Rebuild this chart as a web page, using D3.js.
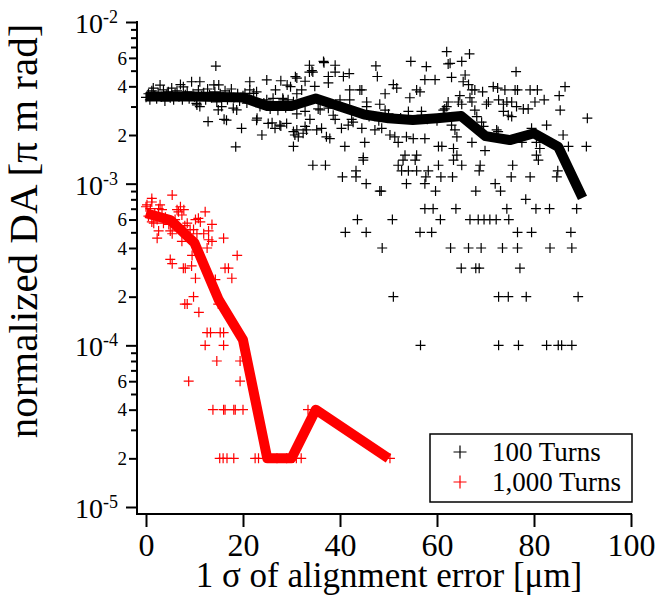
<!DOCTYPE html>
<html>
<head>
<meta charset="utf-8">
<script src="https://d3js.org/d3.v7.min.js"></script>
<style>
  body { margin: 0; background: #fff; }
  text { font-family: "Liberation Serif", "Times New Roman", serif; fill: #000; }
</style>
</head>
<body>
<script>
var width = 655, height = 602;
var unit = 1e-3; // DA values below are given in units of 1e-3 pi m rad

// mean curves
var lineX100 = [0, 5, 10, 15, 20, 25, 30, 35, 40, 45, 50, 55, 60, 65, 70, 75, 80, 85, 90];
var lineDA100 = [3.46, 3.46, 3.46, 3.44, 3.41, 3.02, 3.02, 3.36, 3.0, 2.68, 2.54, 2.48, 2.54, 2.62, 1.97, 1.86, 2.05, 1.69, 0.816];
var lineX1000 = [0, 5, 10, 15, 20, 25, 30, 35, 50];
var lineDA1000 = [0.656, 0.596, 0.43, 0.191, 0.108, 0.02, 0.02, 0.04, 0.02];

// individual seeds, [sigma, DA]
var pts100 = [
  [0,3.42],[0.5,3.6],[0.8,3.3],[1.2,3.75],[1.5,3.9],[1.8,3.5],[2.2,3.35],[2.5,3.65],[2.9,4.07],[3.2,3.45],
  [3.6,3.8],[3.9,3.25],[4.3,3.55],[4.6,3.7],[5.0,3.4],[5.3,3.9],[5.7,3.3],[6.0,3.6],[6.4,3.75],[6.8,3.45],
  [7.1,4.1],[7.5,3.3],[7.7,3.97],[8.1,3.55],[8.5,3.7],[8.9,3.35],[9.4,4.27],[9.7,3.6],[10.0,3.45],[10.4,3.14],
  [10.5,3.07],[10.8,3.8],[11.1,4.27],[11.1,3.0],[11.5,3.5],[11.9,3.65],[12.3,3.3],[12.8,2.42],[12.7,3.85],[13.1,3.55],
  [13.5,3.4],[14.0,4.08],[14.2,3.7],[14.4,5.34],[14.6,3.2],[14.9,2.86],[15.0,4.08],[15.3,3.6],[15.6,3.0],[15.9,3.45],
  [16.1,2.5],[16.3,3.75],[16.6,2.47],[16.8,3.3],[17.2,3.55],[17.6,3.85],[18.0,2.93],[18.1,3.4],[18.5,1.69],[18.7,2.86],
  [18.9,3.6],[19.3,3.25],[19.7,2.2],[20.0,3.5],[20.4,3.62],[20.8,3.15],[21.4,4.27],[21.4,3.8],[21.8,3.3],[22.2,3.62],
  [22.8,3.7],[22.9,2.54],[22.8,2.47],[23.5,3.0],[23.9,2.0],[24.3,3.15],[24.9,4.38],[24.9,3.3],[25.2,2.36],[25.6,2.9],
  [26.0,2.38],[26.2,3.37],[26.6,2.2],[26.7,3.8],[27.2,2.85],[27.6,2.3],[27.8,4.33],[27.8,2.27],[28.2,3.37],[28.3,3.3],
  [28.8,2.95],[29.1,4.07],[29.0,2.36],[29.3,3.3],[29.8,3.98],[30.4,3.21],[30.4,1.7],[30.4,2.1],[30.7,2.0],[30.8,4.59],
  [31.1,4.5],[31.1,3.6],[31.1,2.7],[31.1,2.15],[31.4,1.95],[32.1,3.8],[32.4,2.05],[32.8,4.3],[32.8,2.8],[32.8,2.26],
  [33.1,2.15],[33.7,5.4],[33.7,4.9],[33.8,2.5],[34.2,5.0],[34.4,4.9],[34.4,1.3],[34.8,4.0],[35.2,2.15],[35.5,2.9],
  [35.9,2.86],[36.2,2.2],[36.6,5.7],[36.7,5.6],[37.0,1.3],[37.2,1.95],[37.6,4.6],[37.6,4.2],[37.6,2.93],[37.9,1.9],
  [38.6,2.65],[39.0,5.4],[39.0,4.9],[39.0,2.5],[40.0,3.3],[40.3,2.2],[40.5,1.1],[40.7,4.6],[41.0,1.7],[41.1,0.5],
  [41.7,2.3],[41.9,4.8],[42.0,3.8],[42.0,3.3],[42.4,2.5],[42.7,2.4],[43.3,1.1],[43.3,1.2],[43.6,0.6],[44.1,3.8],
  [44.5,3.8],[44.5,2.2],[44.8,1.45],[44.8,1.4],[45.1,1.8],[45.4,1.0],[45.4,0.5],[45.5,3.2],[45.5,3.0],[46.0,2.6],
  [47.2,2.15],[47.4,5.35],[47.7,4.6],[48.0,2.45],[48.2,3.1],[48.2,0.9],[48.5,0.9],[48.6,2.2],[48.7,0.4],[49.3,3.6],
  [49.3,2.85],[50.0,2.7],[50.3,2.0],[50.8,0.6],[51.0,4.1],[51.0,0.2],[51.3,1.95],[51.7,3.9],[52.0,1.8],[52.0,1.3],
  [52.5,2.55],[52.7,1.2],[53.0,1.4],[53.4,1.5],[53.7,1.95],[53.7,1.0],[54.1,2.8],[54.1,1.2],[54.4,3.4],[54.6,5.7],
  [55.1,1.9],[55.5,1.4],[55.8,3.8],[55.8,1.5],[55.8,1.2],[56.5,3.7],[56.5,0.5],[56.6,0.1],[56.8,2.8],[56.8,2.65],
  [57.5,4.4],[57.5,1.9],[57.5,1.0],[57.5,0.7],[57.7,1.1],[57.8,5.3],[58.0,2.5],[58.2,1.2],[58.9,0.5],[59.2,0.7],
  [59.6,4.4],[59.7,0.9],[60.0,2.45],[60.3,1.7],[60.3,1.3],[60.7,0.6],[60.8,1.1],[61.0,1.7],[61.3,2.85],[61.6,2.9],
  [62.0,6.55],[62.0,3.0],[62.3,5.5],[62.3,3.2],[62.7,5.55],[62.8,0.4],[63.0,4.55],[63.0,2.3],[63.2,1.1],[63.4,1.65],
  [63.4,1.4],[63.7,2.15],[63.9,0.7],[64.1,1.95],[64.1,1.5],[64.4,3.2],[64.7,3.5],[65.0,0.3],[65.1,5.7],[65.1,3.1],
  [65.1,1.3],[65.4,4.27],[65.8,4.7],[66.5,4.1],[66.5,0.4],[66.7,6.35],[66.8,3.4],[66.8,0.6],[67.2,3.8],[67.2,3.2],
  [67.2,1.8],[67.8,3.8],[67.8,2.85],[68.0,0.3],[68.0,0.9],[68.2,2.6],[68.5,0.6],[68.7,0.3],[68.7,1.2],[68.9,1.3],
  [69.1,0.4],[69.2,2.4],[69.4,3.7],[69.6,2.26],[69.7,0.6],[69.9,1.6],[70.2,3.1],[70.6,3.2],[70.9,0.6],[71.6,3.98],
  [72.0,1.0],[72.2,0.6],[72.3,2.15],[72.5,3.9],[72.6,2.1],[72.7,0.2],[72.7,0.1],[72.7,3.3],[73.1,0.9],[73.5,0.4],
  [73.7,3.1],[73.7,2.8],[74.0,3.8],[74.4,3.2],[74.4,0.7],[74.7,2.65],[74.7,0.2],[74.8,0.6],[75.3,1.1],[75.4,3.2],
  [75.4,2.6],[75.6,1.3],[76.1,3.8],[76.3,4.93],[76.4,3.0],[76.6,3.8],[76.6,0.4],[76.6,0.5],[76.8,0.1],[77.1,0.3],
  [77.5,1.8],[77.8,2.9],[78.3,0.8],[78.4,0.2],[78.8,2.9],[79.2,3.8],[79.2,1.1],[79.5,2.2],[79.5,0.5],[80.2,3.2],
  [80.4,0.7],[80.5,1.8],[80.5,1.5],[80.7,3.8],[80.9,1.4],[81.2,1.65],[82.1,3.3],[82.6,2.3],[82.6,0.1],[83.2,0.7],
  [83.3,0.4],[84.7,1.1],[84.9,1.2],[85.0,0.1],[85.2,3.5],[85.4,2.85],[85.7,0.1],[86.0,2.0],[86.4,3.98],[87.1,1.7],
  [87.6,0.5],[87.8,0.4],[87.8,0.1],[88.8,0.7],[89.1,0.2],[90.8,1.7],[91.0,2.54]
];
var pts1000 = [
  [5.4,0.85],[1.2,0.81],[0.2,0.74],[0,0.72],[0.9,0.70],[2.9,0.74],[2.6,0.70],[3.3,0.69],[7.1,0.72],[7.8,0.69],
  [6.7,0.67],[6.4,0.69],[7.4,0.64],[12.2,0.67],[10.8,0.61],[10.2,0.60],[11.2,0.58],[1.6,0.57],[2.3,0.60],[1.2,0.58],
  [3.6,0.57],[4.7,0.56],[8.5,0.57],[9.1,0.52],[9.8,0.52],[10.5,0.49],[13.6,0.56],[12.9,0.51],[11.9,0.49],[2.6,0.51],
  [2.3,0.46],[5.4,0.49],[5.0,0.51],[7.4,0.44],[12.9,0.45],[13.6,0.44],[16.0,0.46],[12.6,0.40],[18.8,0.36],[5.0,0.34],
  [5.4,0.32],[8.1,0.30],[9.5,0.36],[16.3,0.30],[17.0,0.30],[10.2,0.26],[14.3,0.255],[17.7,0.26],[9.8,0.20],[8.5,0.18],
  [10.9,0.16],[8.0,0.18],[14.9,0.18],[12.6,0.12],[13.3,0.12],[15.3,0.12],[16.0,0.12],[12.2,0.10],[16.0,0.10],[14.6,0.08],
  [19.4,0.08],[20.8,0.08],[8.8,0.06],[19.4,0.06],[13.8,0.04],[16.0,0.04],[16.3,0.04],[18.1,0.04],[18.4,0.04],[20.0,0.04],
  [33.4,0.04],[15.2,0.02],[15.9,0.02],[16.7,0.02],[18.1,0.02],[22.5,0.02],[23.2,0.02],[27.0,0.02],[29.0,0.02],[31.0,0.02],
  [32.0,0.02],[50.3,0.02],[0.5,0.63],[1.8,0.65],[4.0,0.62],[6.0,0.60],[8.0,0.55],[1.2,0.77],[9.4,0.31],[7.7,0.30]
];

var xTicks = [0, 20, 40, 60, 80, 100];
var yDecades = [-5, -4, -3, -2];
var yMinorLabels = [2, 4, 6];
var legendLabels = ["100 Turns", "1,000 Turns"];
var colors = ["#000000", "#ff0000"];

var x = d3.scaleLinear().domain([0, 100]).range([146, 631]);
var y = d3.scaleLog().domain([1e-5, 1e-2]).range([507, 22]);

var svg = d3.select("body").append("svg")
    .attr("width", width)
    .attr("height", height);

// axes
var yTickVals = [];
yDecades.forEach(function (e) {
    if (e === -2) { yTickVals.push(Math.pow(10, e)); return; }
    for (var k = 1; k <= 9; k++) yTickVals.push(k * Math.pow(10, e));
});

function mantissa(v) {
    var e = Math.floor(Math.log10(v) + 1e-9);
    return Math.round(v / Math.pow(10, e));
}

var yAxis = svg.append("g")
    .attr("transform", "translate(137,0)")
    .call(d3.axisLeft(y).tickValues(yTickVals).tickFormat("").tickSizeOuter(0));
yAxis.select(".domain").remove();
yAxis.selectAll(".tick line")
    .attr("x2", function (d) {
        var m = mantissa(d);
        if (m === 1) return -11;
        if (yMinorLabels.indexOf(m) >= 0) return -8;
        return -6;
    })
    .attr("stroke", "#000")
    .attr("stroke-width", 2);

var xAxis = svg.append("g")
    .attr("transform", "translate(0,514)")
    .call(d3.axisBottom(x).tickValues(xTicks).tickSize(13).tickSizeOuter(0).tickPadding(4));
xAxis.select(".domain").remove();
xAxis.selectAll(".tick line").attr("stroke", "#000").attr("stroke-width", 2);
xAxis.selectAll(".tick text")
    .attr("font-family", "Liberation Serif, serif")
    .attr("font-size", 32)
    .attr("y", 42)
    .attr("dy", 0);

svg.append("line")
    .attr("x1", 137).attr("x2", 137)
    .attr("y1", 21).attr("y2", 515)
    .attr("stroke", "#000").attr("stroke-width", 2);
svg.append("line")
    .attr("x1", 136).attr("x2", 632)
    .attr("y1", 514).attr("y2", 514)
    .attr("stroke", "#000").attr("stroke-width", 2);

// y tick labels
yDecades.forEach(function (e) {
    var t = svg.append("text")
        .attr("x", 118)
        .attr("y", y(Math.pow(10, e)) + 11)
        .attr("text-anchor", "end")
        .attr("font-size", 28);
    t.append("tspan").text("10");
    t.append("tspan").attr("font-size", 18).attr("dy", -10).text(String(e));
});
yDecades.slice(0, 3).forEach(function (e) {
    yMinorLabels.forEach(function (m) {
        svg.append("text")
            .attr("x", 127)
            .attr("y", y(m * Math.pow(10, e)))
            .attr("dy", "0.35em")
            .attr("text-anchor", "end")
            .attr("font-size", 19)
            .text(m);
    });
});

// axis titles
svg.append("text")
    .attr("x", 389)
    .attr("y", 587)
    .attr("text-anchor", "middle")
    .attr("font-size", 35)
    .text("1 \u03c3 of alignment error [\u03bcm]");

svg.append("text")
    .attr("transform", "translate(37,231) rotate(-90)")
    .attr("text-anchor", "middle")
    .attr("font-size", 41)
    .text("normalized DA [\u03c0 m rad]");

// markers
function plus(sel, size, color, sw) {
    sel.append("path")
        .attr("d", "M" + (-size / 2) + ",0H" + (size / 2) + "M0," + (-size / 2) + "V" + (size / 2))
        .attr("stroke", color)
        .attr("stroke-width", sw)
        .attr("fill", "none");
}

var g100 = svg.append("g");
g100.selectAll("g.p100")
    .data(pts100)
    .enter().append("g")
    .attr("class", "p100")
    .attr("transform", function (d) { return "translate(" + x(d[0]) + "," + y(d[1] * unit) + ")"; })
    .each(function () { plus(d3.select(this), 10, colors[0], 1.2); });

var g1000 = svg.append("g");
g1000.selectAll("g.p1000")
    .data(pts1000)
    .enter().append("g")
    .attr("class", "p1000")
    .attr("transform", function (d) { return "translate(" + x(d[0]) + "," + y(d[1] * unit) + ")"; })
    .each(function () { plus(d3.select(this), 10, colors[1], 1.2); });

var line = d3.line()
    .x(function (d) { return x(d[0]); })
    .y(function (d) { return y(d[1] * unit); });

svg.append("path")
    .datum(d3.zip(lineX100, lineDA100))
    .attr("d", line)
    .attr("fill", "none")
    .attr("stroke", colors[0])
    .attr("stroke-width", 10)
    .attr("stroke-linejoin", "round");

svg.append("path")
    .datum(d3.zip(lineX1000, lineDA1000))
    .attr("d", line)
    .attr("fill", "none")
    .attr("stroke", colors[1])
    .attr("stroke-width", 10)
    .attr("stroke-linejoin", "round");

// legend
var legend = svg.append("g");
legend.append("rect")
    .attr("x", 430).attr("y", 434)
    .attr("width", 202).attr("height", 68)
    .attr("fill", "#fff")
    .attr("stroke", "#000")
    .attr("stroke-width", 1.5);
legendLabels.forEach(function (lab, i) {
    var row = legend.append("g").attr("transform", "translate(0," + (452 + i * 30) + ")");
    plus(row.append("g").attr("transform", "translate(460,0)"), 13, colors[i], 1.2);
    row.append("text")
        .attr("x", 492)
        .attr("y", 9)
        .attr("font-size", 27)
        .text(lab);
});
</script>
</body>
</html>
